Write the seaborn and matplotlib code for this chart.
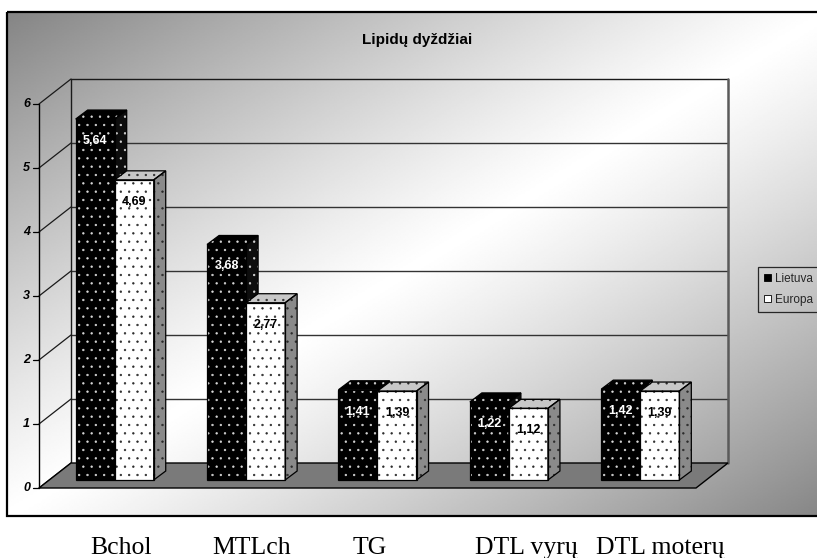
import numpy as np
import pandas as pd
import matplotlib
matplotlib.use("Agg")
import matplotlib.pyplot as plt
import matplotlib.transforms as mtransforms
from matplotlib.patches import Polygon, Rectangle, Patch
from matplotlib.lines import Line2D
import seaborn as sns

# ---- data ----
kategorijos = ["Bchol", "MTLch", "TG", "DTL vyrų", "DTL moterų"]
lietuva = [5.64, 3.68, 1.41, 1.22, 1.42]
europa = [4.69, 2.77, 1.39, 1.12, 1.39]
salys = ["Lietuva", "Europa"]
y_reiksmes = [0, 1, 2, 3, 4, 5, 6]
pavadinimas = "Lipidų dyždžiai"

W, H, DPI = 817, 558, 100

sns.set_theme(style="white")
plt.rcParams["font.family"] = ["Liberation Sans", "DejaVu Sans"]
plt.rcParams["hatch.linewidth"] = 0.45

fig = plt.figure(figsize=(W / DPI, H / DPI), dpi=DPI)
fig.patch.set_facecolor("white")

# ---- chart area: diagonal grey-white-grey gradient with a frame ----
fl, ft, fr, fb = 7, 12, 830, 516
bg = fig.add_axes([0, 0, 1, 1], zorder=0)
xx, yy = np.meshgrid(np.linspace(fl, fr, 500), np.linspace(ft, fb, 320))
t = ((xx - fl) / (fr - fl) + (yy - ft) / (fb - ft)) / 2
shade = 1 - 0.48 * np.abs(2 * t - 1) ** 1.15
bg.imshow(shade, cmap="gray", vmin=0, vmax=1, extent=(fl, fr, fb, ft),
          interpolation="bilinear", aspect="auto")
bg.add_patch(Rectangle((fl, ft), fr - fl, fb - ft, fill=False, ec="black", lw=1.6))
bg.set_xlim(0, W)
bg.set_ylim(H, 0)
bg.axis("off")

# ---- plotting plane (front plane of the 3D box) ----
ax = fig.add_axes([39 / W, 1 - 488 / H, (696 - 39) / W, (488 - 104) / H], zorder=1)
df = pd.DataFrame({
    "kategorija": kategorijos * 2,
    "šalis": [salys[0]] * len(kategorijos) + [salys[1]] * len(kategorijos),
    "reikšmė": lietuva + europa,
})
sns.barplot(data=df, x="kategorija", y="reikšmė", hue="šalis", hue_order=salys,
            palette={"Lietuva": "black", "Europa": "white"}, saturation=1,
            width=0.594, errorbar=None, legend=False, ax=ax)
bars = sorted([p for p in ax.patches if isinstance(p, Rectangle)], key=lambda p: p.get_x())
ax.set_xlim(-0.5, len(kategorijos) - 0.5)
ax.set_ylim(0, y_reiksmes[-1])
ax.set_autoscale_on(False)
ax.axis("off")

BACK = (32, 25)    # depth of the back wall, px
BAR = (10, 8)      # depth of the bar row, px
DEPTH = (12, 9)    # thickness of each bar, px
IDT = mtransforms.IdentityTransform()
x_lo, x_hi = ax.get_xlim()


def disp(x, y, d=(0, 0), extra=(0, 0)):
    X, Y = ax.transData.transform((x, y))
    return (X + d[0] + extra[0], Y + d[1] + extra[1])


def line(p, q, color="black", lw=0.9, z=2):
    ax.add_line(Line2D([p[0], q[0]], [p[1], q[1]], color=color, lw=lw,
                       transform=IDT, clip_on=False, zorder=z))


def poly(pts, z, **kw):
    ax.add_patch(Polygon(pts, closed=True, transform=IDT, clip_on=False, zorder=z, **kw))


# walls, gridlines and value axis
for v in y_reiksmes:
    line(disp(x_lo, v), disp(x_lo, v, BACK), color="#1a1a1a", lw=0.9)
    if v > 0:
        line(disp(x_lo, v, BACK), disp(x_hi, v, BACK),
             color="#1a1a1a" if v == y_reiksmes[-1] else "#333333", lw=1.0)
    line(disp(x_lo, v, extra=(-6, 0)), disp(x_lo, v), lw=0.9)
    ax.text(*disp(x_lo, v, extra=(-9, 0)), f"{v}", transform=IDT, ha="right", va="center",
            fontsize=9, fontweight="bold", fontstyle="italic", color="black", zorder=3)
line(disp(x_lo, 0, BACK), disp(x_lo, y_reiksmes[-1], BACK), color="#1a1a1a", lw=1.0)
line(disp(x_hi, 0, BACK), disp(x_hi, y_reiksmes[-1], BACK), color="#5a5a5a", lw=1.8)
line(disp(x_lo, 0), disp(x_lo, y_reiksmes[-1]), lw=1.0, z=6)

# floor
poly([disp(x_lo, 0), disp(x_hi, 0), disp(x_hi, 0, BACK), disp(x_lo, 0, BACK)], 4,
     facecolor="#7a7a7a", edgecolor="black", lw=1.0)

# ---- 3D bars built from the seaborn bar geometry ----
bar_off = mtransforms.ScaledTranslation(BAR[0] / DPI, BAR[1] / DPI, fig.dpi_scale_trans)
for k, p in enumerate(bars):
    x0, w, h = p.get_x(), p.get_width(), p.get_height()
    dark = p.get_facecolor()[0] < 0.5
    z = 10 + 4 * k
    if dark:
        top_fc, side_fc, hc = "black", "#0d0d0d", "#d8d8d8"
    else:
        top_fc, side_fc, hc = "#c8c8c8", "#8a8a8a", "#2a2a2a"
    p.set_transform(ax.transData + bar_off)
    p.set_clip_on(False)
    p.set_zorder(z)
    p.set_hatch("..")
    p.set_edgecolor(hc)
    p.set_linewidth(0)
    fbl, fbr = disp(x0, 0, BAR), disp(x0 + w, 0, BAR)
    ftl, ftr = disp(x0, h, BAR), disp(x0 + w, h, BAR)
    btl, btr = disp(x0, h, BAR, DEPTH), disp(x0 + w, h, BAR, DEPTH)
    bbr = disp(x0 + w, 0, BAR, DEPTH)
    top = [ftl, ftr, btr, btl]
    side = [fbr, ftr, btr, bbr]
    poly(top, z + 1, facecolor=top_fc, edgecolor=hc, hatch="..", lw=0)
    poly(side, z + 1, facecolor=side_fc, edgecolor=hc, hatch="..", lw=0)
    poly([fbl, fbr, ftr, ftl], z + 2, fill=False, edgecolor="black", lw=0.9)
    poly(top, z + 2, fill=False, edgecolor="black", lw=0.9)
    poly(side, z + 2, fill=False, edgecolor="black", lw=0.9)
    lx, ly = disp(x0 + w / 2, h, BAR, (0, -22))
    ax.text(lx, ly, f"{h:.2f}".replace(".", ","), transform=IDT, ha="center", va="center",
            fontsize=9, fontweight="bold", color="white" if dark else "black", zorder=200)

# ---- legend ----
handles = [Patch(facecolor="black", edgecolor="black", lw=0.6),
           Patch(facecolor="white", edgecolor="black", lw=0.6)]
leg = fig.legend(handles, salys, loc="upper left", bbox_to_anchor=(758 / W, 1 - 267 / H),
                 fontsize=8.5, frameon=True, fancybox=False, edgecolor="black",
                 handlelength=0.6, handleheight=0.6, handletextpad=0.3,
                 borderpad=0.5, labelspacing=0.75, borderaxespad=0)
leg.get_frame().set_facecolor("none")
leg.get_frame().set_linewidth(0.9)
leg.set_zorder(20)

# ---- title ----
fig.text(417 / W, 1 - 44 / H, pavadinimas, ha="center", va="baseline",
         fontsize=11, fontweight="bold", color="black", zorder=20)

# ---- category names below the chart ----
label_x = [121, 252, 370, 526, 660]
for name, cx in zip(kategorijos, label_x):
    fig.text(cx / W, 1 - 554 / H, name, ha="center", va="baseline",
             fontsize=18.5, family=["Liberation Serif", "DejaVu Serif"], color="black")

fig.savefig("out.png", dpi=DPI)
